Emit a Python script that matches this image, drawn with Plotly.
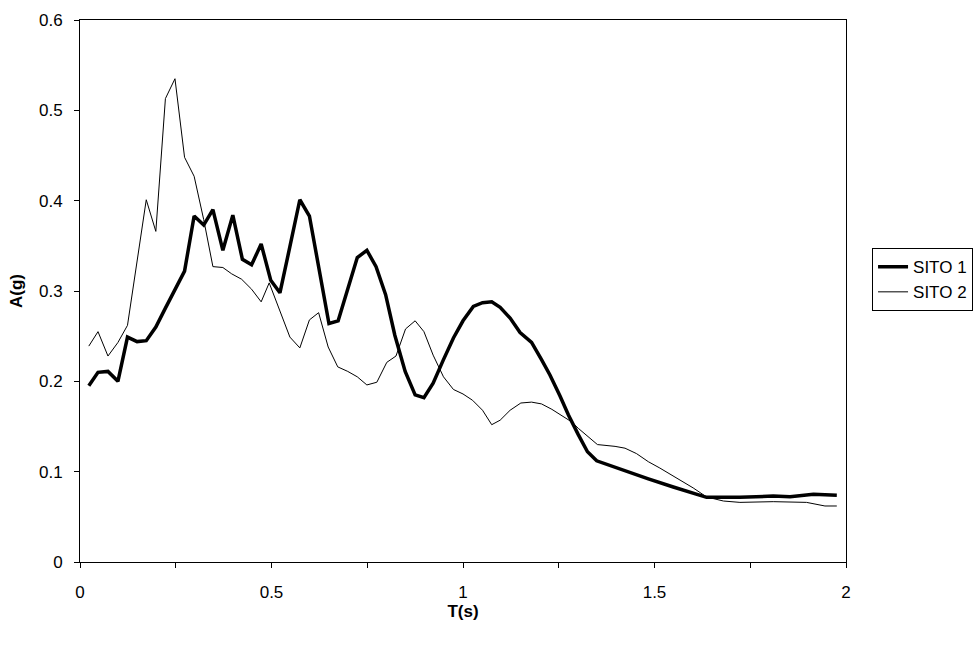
import plotly.graph_objects as go

t1 = [0.023, 0.047, 0.073, 0.099, 0.124, 0.149, 0.173, 0.198, 0.223, 0.248,
      0.273, 0.298, 0.323, 0.347, 0.373, 0.399, 0.424, 0.448, 0.473, 0.498,
      0.522, 0.548, 0.574, 0.599, 0.624, 0.650, 0.674, 0.699, 0.724, 0.749,
      0.773, 0.798, 0.822, 0.849, 0.875, 0.898, 0.922, 0.949, 0.975, 1.000,
      1.027, 1.051, 1.075, 1.097, 1.123, 1.149, 1.179, 1.205, 1.227, 1.253,
      1.275, 1.301, 1.325, 1.349, 1.401, 1.484, 1.549, 1.636, 1.723, 1.810,
      1.854, 1.915, 1.976]
sito1 = [0.195, 0.210, 0.211, 0.200, 0.249, 0.244, 0.245, 0.260, 0.281, 0.301,
         0.322, 0.383, 0.373, 0.390, 0.345, 0.384, 0.335, 0.329, 0.352, 0.312,
         0.298, 0.349, 0.401, 0.383, 0.323, 0.264, 0.267, 0.302, 0.337, 0.345,
         0.327, 0.296, 0.251, 0.211, 0.185, 0.182, 0.198, 0.224, 0.248, 0.267,
         0.283, 0.287, 0.288, 0.282, 0.270, 0.254, 0.243, 0.224, 0.207, 0.184,
         0.163, 0.141, 0.122, 0.112, 0.104, 0.092, 0.083, 0.0716, 0.0716, 0.073,
         0.0723, 0.075, 0.074]

t2 = [0.023, 0.047, 0.073, 0.099, 0.124, 0.149, 0.173, 0.198, 0.223, 0.248,
      0.273, 0.298, 0.323, 0.347, 0.373, 0.396, 0.422, 0.448, 0.473, 0.494,
      0.522, 0.548, 0.574, 0.599, 0.623, 0.648, 0.673, 0.699, 0.724, 0.749,
      0.775, 0.801, 0.825, 0.850, 0.875, 0.898, 0.922, 0.949, 0.975, 1.000,
      1.025, 1.051, 1.075, 1.097, 1.123, 1.151, 1.179, 1.205, 1.232, 1.258,
      1.284, 1.301, 1.325, 1.351, 1.397, 1.423, 1.453, 1.484, 1.514, 1.567,
      1.601, 1.636, 1.680, 1.723, 1.810, 1.897, 1.945, 1.976]
sito2 = [0.239, 0.255, 0.228, 0.243, 0.262, 0.334, 0.401, 0.366, 0.513, 0.535,
         0.448, 0.427, 0.379, 0.327, 0.326, 0.319, 0.313, 0.302, 0.288, 0.309,
         0.279, 0.249, 0.237, 0.268, 0.276, 0.238, 0.216, 0.211, 0.205, 0.196,
         0.199, 0.221, 0.228, 0.258, 0.267, 0.255, 0.229, 0.205, 0.191, 0.186,
         0.179, 0.168, 0.152, 0.157, 0.168, 0.176, 0.177, 0.175, 0.169, 0.162,
         0.155, 0.148, 0.139, 0.130, 0.128, 0.126, 0.120, 0.111, 0.104, 0.091,
         0.082, 0.072, 0.0675, 0.066, 0.0668, 0.066, 0.062, 0.062]

x_ticks = [0, 0.5, 1, 1.5, 2]
x_labels = ["0", "0.5", "1", "1.5", "2"]
x_minor = [0.25, 0.75, 1.25, 1.75]
y_ticks = [0, 0.1, 0.2, 0.3, 0.4, 0.5, 0.6]
y_labels = ["0", "0.1", "0.2", "0.3", "0.4", "0.5", "0.6"]

FONT = "Liberation Sans, Arial, sans-serif"

fig = go.Figure()
fig.add_trace(go.Scatter(x=t1, y=sito1, mode="lines", name="SITO 1",
                         line=dict(color="black", width=3.5)))
fig.add_trace(go.Scatter(x=t2, y=sito2, mode="lines", name="SITO 2",
                         line=dict(color="black", width=1)))

fig.update_layout(
    width=978, height=645,
    margin=dict(l=80, r=132, t=20, b=83, autoexpand=False),
    paper_bgcolor="white", plot_bgcolor="white",
    font=dict(family=FONT, size=17, color="black"),
    legend=dict(x=1.034, y=0.579, xanchor="left", yanchor="top",
                bordercolor="black", borderwidth=1,
                font=dict(family=FONT, size=17, color="black"),
                tracegroupgap=0),
    xaxis=dict(range=[0, 2], tickvals=x_ticks, ticktext=x_labels,
               ticks="outside", ticklen=5, tickcolor="black",
               minor=dict(tickvals=x_minor, ticks="outside",
                          ticklen=5, tickcolor="black"),
               showline=True, linecolor="black", linewidth=1, mirror=True,
               showgrid=False, zeroline=False, ticklabelstandoff=10,
               title=dict(text="<b>T(s)</b>", standoff=3,
                          font=dict(family=FONT, size=17))),
    yaxis=dict(range=[0, 0.6], tickvals=y_ticks, ticktext=y_labels,
               ticks="outside", ticklen=5, tickcolor="black",
               showline=True, linecolor="black", linewidth=1, mirror=True,
               showgrid=False, zeroline=False, ticklabelstandoff=8,
               title=dict(text="<b>A(g)</b>", standoff=12,
                          font=dict(family=FONT, size=17))),
)

fig.write_html("out.html")
